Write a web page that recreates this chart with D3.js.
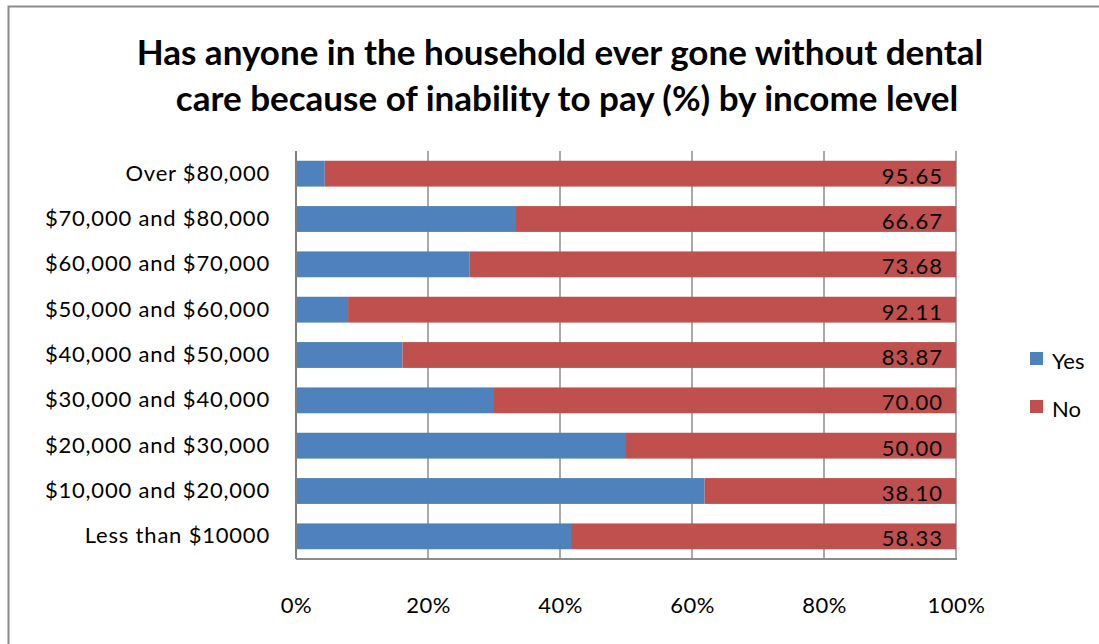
<!DOCTYPE html>
<html>
<head>
<meta charset="utf-8">
<script src="https://cdn.jsdelivr.net/npm/d3@7"></script>
<style>
  body { margin: 0; background: #fff; }
  text { font-family: Lato, "Open Sans", sans-serif; }
</style>
</head>
<body>
<script>
var categories = ["Over $80,000", "$70,000 and $80,000", "$60,000 and $70,000",
    "$50,000 and $60,000", "$40,000 and $50,000", "$30,000 and $40,000",
    "$20,000 and $30,000", "$10,000 and $20,000", "Less than $10000"];
var yesValues = [4.35, 33.33, 26.32, 7.89, 16.13, 30.00, 50.00, 61.90, 41.67];
var noValues = [95.65, 66.67, 73.68, 92.11, 83.87, 70.00, 50.00, 38.10, 58.33];
var tickValues = [0, 0.2, 0.4, 0.6, 0.8, 1];
var seriesNames = ["Yes", "No"];
var colors = ["#4f81bd", "#c0504d"];

var w = 1099;
var h = 644;

var svg = d3.select("body")
    .append("svg")
    .attr("width", w)
    .attr("height", h);

// outer chart border
svg.append("rect")
    .attr("x", 8.5).attr("y", 6.5)
    .attr("width", w + 20).attr("height", h + 20)
    .attr("fill", "none")
    .attr("stroke", "#8c8c8c")
    .attr("stroke-width", 2);

// title
svg.append("text")
    .attr("x", 560).attr("y", 65)
    .attr("text-anchor", "middle")
    .attr("font-size", "35px").attr("font-weight", "bold")
    .text("Has anyone in the household ever gone without dental");
svg.append("text")
    .attr("x", 567).attr("y", 111)
    .attr("text-anchor", "middle")
    .attr("font-size", "35px").attr("font-weight", "bold")
    .text("care because of inability to pay (%) by income level");

var plotLeft = 296, plotRight = 956, plotTop = 151, plotBottom = 559;

var xScale = d3.scaleLinear().domain([0, 1]).range([plotLeft, plotRight]);
var yScale = d3.scaleBand().domain(categories).range([plotTop, plotBottom]).paddingInner(0.43).paddingOuter(0.215);

// gridlines
svg.selectAll("line.grid")
    .data(tickValues)
    .enter()
    .append("line")
    .attr("class", "grid")
    .attr("x1", function(d) { return xScale(d); })
    .attr("x2", function(d) { return xScale(d); })
    .attr("y1", plotTop).attr("y2", plotBottom)
    .attr("stroke", "#8c8c8c")
    .attr("stroke-width", 1.5);

// bars
var rows = categories.map(function(c, i) {
    return { cat: c, yes: yesValues[i] / 100, no: noValues[i] / 100 };
});

svg.selectAll("rect.yes")
    .data(rows)
    .enter()
    .append("rect")
    .attr("class", "yes")
    .attr("x", xScale(0))
    .attr("y", function(d) { return yScale(d.cat); })
    .attr("width", function(d) { return xScale(d.yes) - xScale(0); })
    .attr("height", yScale.bandwidth())
    .attr("fill", colors[0]);

svg.selectAll("rect.no")
    .data(rows)
    .enter()
    .append("rect")
    .attr("class", "no")
    .attr("x", function(d) { return xScale(d.yes); })
    .attr("y", function(d) { return yScale(d.cat); })
    .attr("width", function(d) { return xScale(d.yes + d.no) - xScale(d.yes); })
    .attr("height", yScale.bandwidth())
    .attr("fill", colors[1]);

// data labels on the No series
svg.selectAll("text.lbl")
    .data(rows)
    .enter()
    .append("text")
    .attr("class", "lbl")
    .attr("x", xScale(1) - 13)
    .attr("y", function(d) { return yScale(d.cat) + yScale.bandwidth() / 2 + 10; })
    .attr("text-anchor", "end")
    .attr("font-size", "22px")
    .attr("letter-spacing", "1px")
    .attr("fill", "#000")
    .text(function(d) { return (d.no * 100).toFixed(2); });

// plot frame: left axis, bottom
svg.append("line")
    .attr("x1", plotLeft).attr("x2", plotLeft).attr("y1", plotTop).attr("y2", plotBottom)
    .attr("stroke", "#7f7f7f").attr("stroke-width", 2);
svg.append("line")
    .attr("x1", plotLeft).attr("x2", plotRight + 1).attr("y1", plotBottom).attr("y2", plotBottom)
    .attr("stroke", "#8c8c8c").attr("stroke-width", 2);

// y axis labels
var yAxis = d3.axisLeft(yScale).tickSize(0).tickPadding(26);
var gy = svg.append("g")
    .attr("transform", "translate(" + plotLeft + ",0)")
    .call(yAxis);
gy.select(".domain").remove();
gy.selectAll("text")
    .attr("font-size", "22px")
    .attr("letter-spacing", "0.8px")
    .attr("fill", "#000")
    .style("font-family", "Lato, sans-serif");

// x axis labels
var xAxis = d3.axisBottom(xScale).tickValues(tickValues).tickFormat(d3.format(".0%")).tickSize(0).tickPadding(38);
var gx = svg.append("g")
    .attr("transform", "translate(0," + plotBottom + ")")
    .call(xAxis);
gx.select(".domain").remove();
gx.selectAll("text")
    .attr("font-size", "22px")
    .attr("letter-spacing", "0.5px")
    .attr("fill", "#000")
    .style("font-family", "Lato, sans-serif");

// legend
var legend = svg.selectAll("g.legend")
    .data(seriesNames)
    .enter()
    .append("g")
    .attr("class", "legend")
    .attr("transform", function(d, i) { return "translate(1030," + (352 + i * 48) + ")"; });
legend.append("rect")
    .attr("width", 13).attr("height", 13)
    .attr("fill", function(d, i) { return colors[i]; });
legend.append("text")
    .attr("x", 22).attr("y", 17)
    .attr("font-size", "22px")
    .text(function(d) { return d; });
</script>
</body>
</html>
